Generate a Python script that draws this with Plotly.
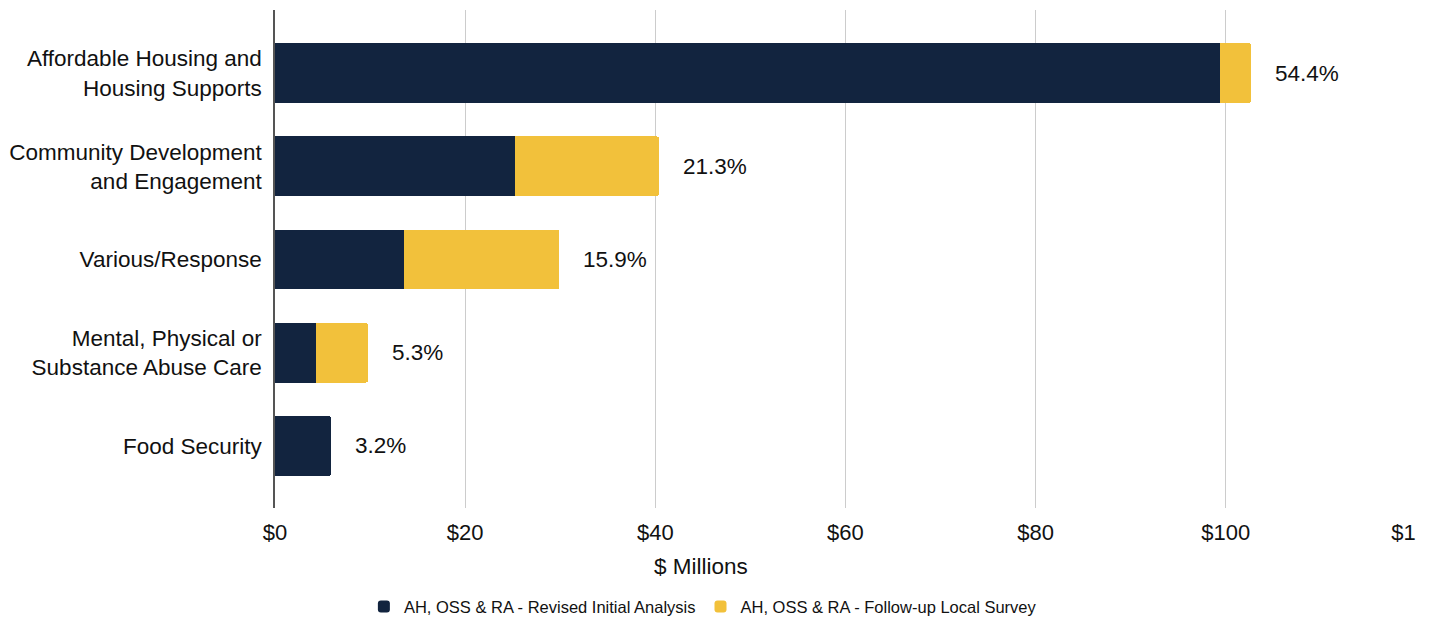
import plotly.graph_objects as go

# Funding by category, in $ millions
categories = [
    "Affordable Housing and<br>Housing Supports",
    "Community Development<br>and Engagement",
    "Various/Response",
    "Mental, Physical or<br>Substance Abuse Care",
    "Food Security",
]
initial_analysis = [99.4, 25.2, 13.6, 4.3, 5.9]
follow_up_survey = [3.3, 15.2, 16.3, 5.5, 0.0]
share_labels = ["54.4%", "21.3%", "15.9%", "5.3%", "3.2%"]

x_tickvals = [0, 20, 40, 60, 80, 100, 120]
x_ticktext = ["$0", "$20", "$40", "$60", "$80", "$100", "$120"]

NAVY = "#12243f"
GOLD = "#f2c13b"
INK = "#111111"
FONT = "Liberation Sans, Arial, sans-serif"

fig = go.Figure()
fig.add_trace(go.Bar(
    y=categories, x=initial_analysis, orientation="h",
    name="AH, OSS & RA - Revised Initial Analysis",
    marker=dict(color=NAVY, line=dict(width=0)), width=0.64,
))
fig.add_trace(go.Bar(
    y=categories, x=follow_up_survey, orientation="h",
    name="AH, OSS & RA - Follow-up Local Survey",
    marker=dict(color=GOLD, line=dict(width=0)), width=0.64,
))

# Share labels just past the end of each stacked bar
for cat, a, b, lab in zip(categories, initial_analysis, follow_up_survey, share_labels):
    fig.add_annotation(
        x=a + b, y=cat, text=lab, showarrow=False,
        xanchor="left", yanchor="middle", xshift=22,
        font=dict(size=22.5, color=INK, family=FONT),
    )

# Axis title, placed under the tick labels
fig.add_annotation(
    x=0.373, y=-0.117, xref="paper", yref="paper", text="$ Millions",
    showarrow=False, xanchor="center", yanchor="middle",
    font=dict(size=22.5, color=INK, family=FONT),
)

fig.update_layout(
    width=1416, height=618,
    margin=dict(l=275, r=0, t=10, b=110, autoexpand=False),
    barmode="stack",
    barcornerradius=3,
    plot_bgcolor="white", paper_bgcolor="white",
    font=dict(family=FONT, size=22, color=INK),
    showlegend=True,
    legend=dict(
        orientation="h", x=0.375, xanchor="center",
        yref="container", y=0.018, yanchor="middle",
        font=dict(size=16.5, color=INK, family=FONT),
        itemsizing="constant", traceorder="normal",
    ),
)
fig.update_xaxes(
    range=[0, 120.02], tickvals=x_tickvals, ticktext=x_ticktext,
    showgrid=True, gridcolor="#cccccc", gridwidth=1,
    zeroline=False, showline=False, ticks="",
    tickfont=dict(size=22, color=INK, family=FONT),
    ticklabelstandoff=9, ticklabeloverflow="allow", automargin=False,
)
fig.update_yaxes(
    range=[4.665, -0.676], showgrid=False, zeroline=False,
    showline=True, linecolor="#555555", linewidth=1.5,
    ticks="", ticklabelstandoff=7, automargin=False,
    tickfont=dict(size=22.5, color=INK, family=FONT),
)

fig.write_html("out.html")
